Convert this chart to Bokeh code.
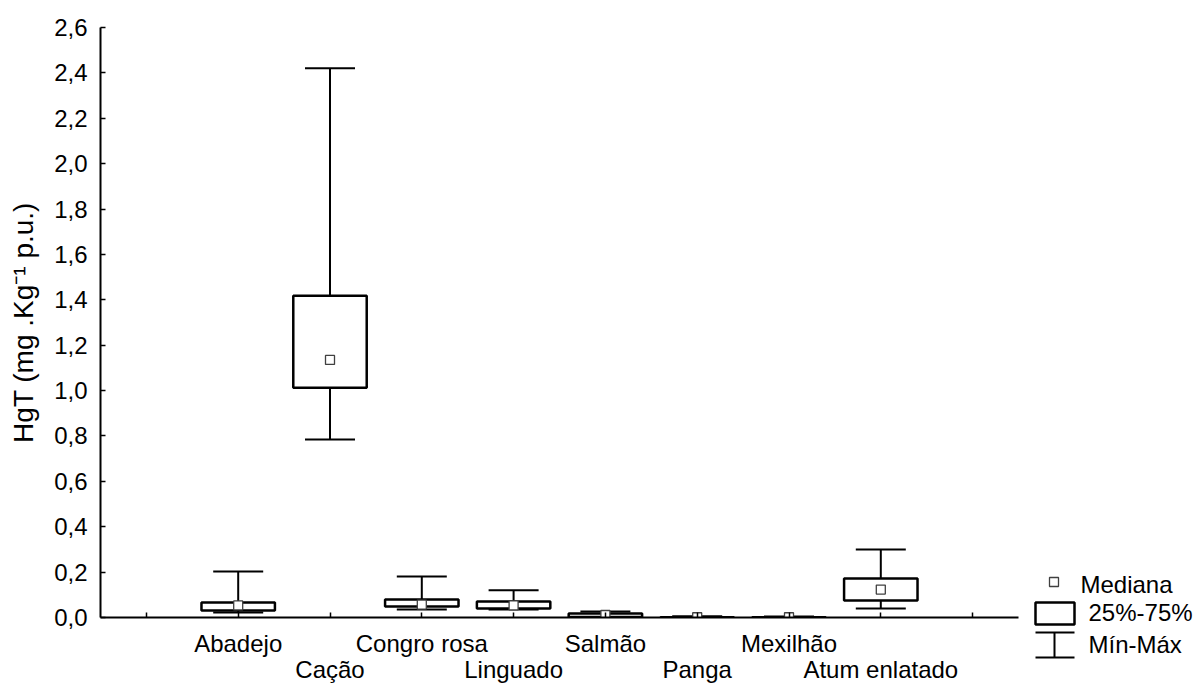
from bokeh.plotting import figure
from bokeh.models import Range1d, FixedTicker, ColumnDataSource, Whisker, TeeHead
from bokeh.embed import file_html
from bokeh.resources import INLINE
from bokeh.core.properties import value

# ---------------- data ----------------
categories = ["Abadejo", "Cação", "Congro rosa", "Linguado",
              "Salmão", "Panga", "Mexilhão", "Atum enlatado"]
positions = [1, 2, 3, 4, 5, 6, 7, 8]
v_min = [0.022, 0.784, 0.035, 0.035, 0.002, 0.000, 0.000, 0.040]
v_q1 = [0.031, 1.013, 0.048, 0.040, 0.002, 0.000, 0.000, 0.075]
v_median = [0.053, 1.135, 0.057, 0.053, 0.011, 0.001, 0.001, 0.123]
v_q3 = [0.066, 1.418, 0.079, 0.070, 0.018, 0.001, 0.001, 0.172]
v_max = [0.203, 2.420, 0.181, 0.120, 0.026, 0.005, 0.004, 0.300]

x_ticks = [0, 1, 2, 3, 4, 5, 6, 7, 8, 9]
y_ticks = [0.0, 0.2, 0.4, 0.6, 0.8, 1.0, 1.2, 1.4, 1.6, 1.8, 2.0, 2.2, 2.4, 2.6]
y_tick_labels = ["0,0", "0,2", "0,4", "0,6", "0,8", "1,0", "1,2", "1,4",
                 "1,6", "1,8", "2,0", "2,2", "2,4", "2,6"]
y_label = "HgT (mg .Kg\u207b\u00b9 p.u.)"
legend_labels = ["Mediana", "25%-75%", "Mín-Máx"]

FONT = "Liberation Sans"
FS = "24px"

# canvas / frame geometry (the page has no margin with Bokeh's template)
W, H = 1194, 684
BL, BR, BT, BB = 100, 176, 27, 67
X0, X1 = -0.5, 9.5
Y0, Y1 = 0.0, 2.6
FW = W - BL - BR
FH = H - BT - BB


def sx(px):
    """screen x (page px) -> data x"""
    return X0 + (px - BL) * (X1 - X0) / FW


def sy(py):
    """screen y (page px) -> data y"""
    return Y0 + (BT + FH - py) * (Y1 - Y0) / FH


p = figure(width=W, height=H,
           x_range=Range1d(X0, X1), y_range=Range1d(Y0, Y1),
           output_backend="svg", toolbar_location=None,
           min_border_left=BL, min_border_right=BR,
           min_border_top=BT, min_border_bottom=BB)
p.outline_line_color = None
p.grid.visible = False
p.background_fill_color = "white"
p.border_fill_color = "white"

src = ColumnDataSource(dict(x=positions, vmin=v_min, q1=v_q1, med=v_median,
                            q3=v_q3, vmax=v_max))

wh = Whisker(base="x", lower="vmin", upper="vmax", source=src, dimension="height",
             line_color="black", line_width=2, level="underlay",
             lower_head=TeeHead(size=50, line_color="black", line_width=2),
             upper_head=TeeHead(size=50, line_color="black", line_width=2))
p.add_layout(wh)

p.vbar(x="x", width=0.8, bottom="q1", top="q3", source=src,
       fill_color="white", line_color="black", line_width=2.5)

p.scatter(x="x", y="med", source=src, marker="square", size=9,
          fill_color="white", line_color="#404040", line_width=1.3)

# x axis: first row of labels
xa = p.xaxis[0]
xa.ticker = FixedTicker(ticks=x_ticks)
row1 = {t: "" for t in x_ticks}
for i, (pos, cat) in enumerate(zip(positions, categories)):
    if i % 2 == 0:
        row1[pos] = cat
xa.major_label_overrides = row1
xa.major_tick_in = 5
xa.major_tick_out = 0
xa.minor_tick_line_color = None
xa.axis_line_width = 2
xa.major_tick_line_width = 1.5
xa.major_label_standoff = 12
xa.major_label_text_font = FONT
xa.major_label_text_font_size = FS
xa.major_label_text_color = "black"

# second row of labels (staggered)
row2_x = [pos for i, pos in enumerate(positions) if i % 2 == 1]
row2_t = [cat for i, cat in enumerate(categories) if i % 2 == 1]
p.text(x=row2_x, y=[sy(669)] * len(row2_x), text=row2_t,
       text_font=value(FONT), text_font_size=FS, text_color="black",
       text_align="center", text_baseline="alphabetic", level="overlay")

# y axis
ya = p.yaxis[0]
ya.ticker = FixedTicker(ticks=y_ticks)
ya.major_label_overrides = dict(zip(y_ticks, y_tick_labels))
ya.major_tick_in = 5
ya.major_tick_out = 0
ya.minor_tick_line_color = None
ya.axis_line_width = 2
ya.major_tick_line_width = 1.5
ya.major_label_standoff = 13
ya.major_label_text_font = FONT
ya.major_label_text_font_size = FS
ya.major_label_text_color = "black"
ya.axis_label = y_label
ya.axis_label_text_font = FONT
ya.axis_label_text_font_size = "28px"
ya.axis_label_text_font_style = "normal"
ya.axis_label_text_color = "black"
ya.axis_label_standoff = 12

# ---------------- legend (drawn in the right border) ----------------
p.quad(left=[sx(1049)], right=[sx(1058)], top=[sy(577)], bottom=[sy(586)],
       fill_color="white", line_color="#404040", line_width=1.3, level="overlay")
p.quad(left=[sx(1035)], right=[sx(1074)], top=[sy(602)], bottom=[sy(624)],
       fill_color="white", line_color="black", line_width=2.5, level="overlay")
p.segment(x0=[sx(1035), sx(1035), sx(1054)], y0=[sy(632), sy(657), sy(632)],
          x1=[sx(1074), sx(1074), sx(1054)], y1=[sy(632), sy(657), sy(657)],
          line_color="black", line_width=2, level="overlay")
p.text(x=[sx(1080), sx(1088), sx(1088)], y=[sy(584), sy(612), sy(644)],
       text=legend_labels, text_font=value(FONT), text_font_size=FS,
       text_color="black", text_align="left", text_baseline="alphabetic",
       level="overlay")

open("out.html", "w").write(file_html(p, INLINE))
